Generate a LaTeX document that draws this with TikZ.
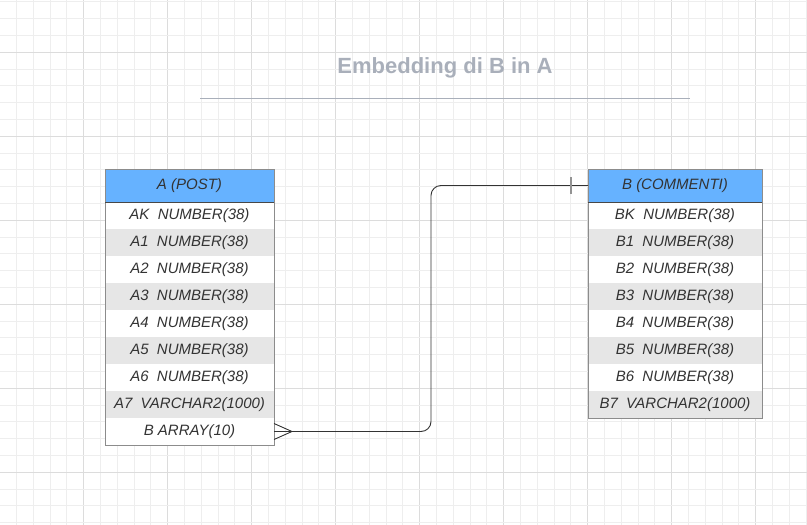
\documentclass[tikz,border=0pt]{standalone}
\usepackage{fontspec}
\setmainfont{Liberation Sans}
\usetikzlibrary{
    calc,
    positioning
}

\definecolor{headblue}{HTML}{66B2FF}
\definecolor{rowgray}{HTML}{E6E6E6}
\definecolor{textgray}{HTML}{333333}
\definecolor{titlegray}{HTML}{A9AFBA}
\definecolor{gridminor}{HTML}{EEEEEE}
\definecolor{gridmajor}{HTML}{DCDCDC}

\tikzset{
    tablehead/.style={fill=headblue, draw=textgray!90, line width=0.8pt,
        minimum height=33, inner sep=0pt, outer sep=0pt,
        font=\fontsize{15}{18}\selectfont\itshape, text=textgray},
    tablerow/.style={minimum height=27, inner sep=0pt, outer sep=0pt,
        font=\fontsize{15}{18}\selectfont\itshape, text=textgray},
    tableframe/.style={draw=gray!90, line width=0.9pt},
    conn/.style={draw=textgray, line width=0.9pt},
    onebar/.style={draw=gray!85, line width=1.5pt}
}

\begin{document}
\begin{tikzpicture}[x=1pt, y=-1pt]
    \useasboundingbox (0,0) rectangle (807,525);

    % background grid
    \foreach \i in {0,...,48} {
        \pgfmathtruncatemacro{\m}{mod(\i,5)}
        \ifnum\m=0 \def\gc{gridmajor}\else \def\gc{gridminor}\fi
        \draw[\gc, line width=0.9pt] ({\i*16.8-0.3},0) -- ++(0,525);
    }
    \foreach \i in {0,...,31} {
        \pgfmathtruncatemacro{\m}{mod(\i+2,5)}
        \ifnum\m=0 \def\gc{gridmajor}\else \def\gc{gridminor}\fi
        \draw[\gc, line width=0.9pt] (0,{\i*16.8+1.9}) -- ++(807,0);
    }

    % title
    \node[anchor=base, font=\fontsize{22}{26}\selectfont\bfseries, text=titlegray]
        (title) at (445,73) {Embedding di B in A};
    \draw[titlegray, line width=1.4pt] (200,98.5) -- (690,98.5);

    % table A
    \foreach \lbl [count=\i] in {{AK\ \ NUMBER(38)}, {A1\ \ NUMBER(38)},
            {A2\ \ NUMBER(38)}, {A3\ \ NUMBER(38)}, {A4\ \ NUMBER(38)},
            {A5\ \ NUMBER(38)}, {A6\ \ NUMBER(38)}, {A7\ \ VARCHAR2(1000)},
            {B ARRAY(10)}} {
        \ifodd\i \def\rf{white}\else \def\rf{rowgray}\fi
        \node[tablerow, fill=\rf, minimum width=169] (A-\i)
            at (189.5,{202+27*(\i-0.5)}) {\lbl};
    }
    \node[tablehead, minimum width=169, above=0pt of A-1] (A) {A (POST)};
    \draw[tableframe] (A.north west) rectangle (A-9.south east);
    \draw[textgray!90, line width=0.8pt] (A.south west) -- (A.south east);

    % table B
    \foreach \lbl [count=\i] in {{BK\ \ NUMBER(38)}, {B1\ \ NUMBER(38)},
            {B2\ \ NUMBER(38)}, {B3\ \ NUMBER(38)}, {B4\ \ NUMBER(38)},
            {B5\ \ NUMBER(38)}, {B6\ \ NUMBER(38)}, {B7\ \ VARCHAR2(1000)}} {
        \ifodd\i \def\rf{white}\else \def\rf{rowgray}\fi
        \node[tablerow, fill=\rf, minimum width=174] (B-\i)
            at (675,{202+27*(\i-0.5)}) {\lbl};
    }
    \node[tablehead, minimum width=174, above=0pt of B-1] (B) {B (COMMENTI)};
    \draw[tableframe] (B.north west) rectangle (B-8.south east);
    \draw[textgray!90, line width=0.8pt] (B.south west) -- (B.south east);

    % relationship A -> B
    \coordinate (bend) at (431,0);
    \coordinate (crow) at ($(A-9.east)+(18,0)$);
    \draw[conn, rounded corners=10] (A-9.east) -| (bend |- B.west) -- (B.west);
    \draw[conn] ($(A-9.east)+(0,-8)$) -- (crow) -- ($(A-9.east)+(0,8)$);
    \draw[onebar] ($(B.west)+(-17,-8.5)$) -- ++(0,17);
\end{tikzpicture}
\end{document}
